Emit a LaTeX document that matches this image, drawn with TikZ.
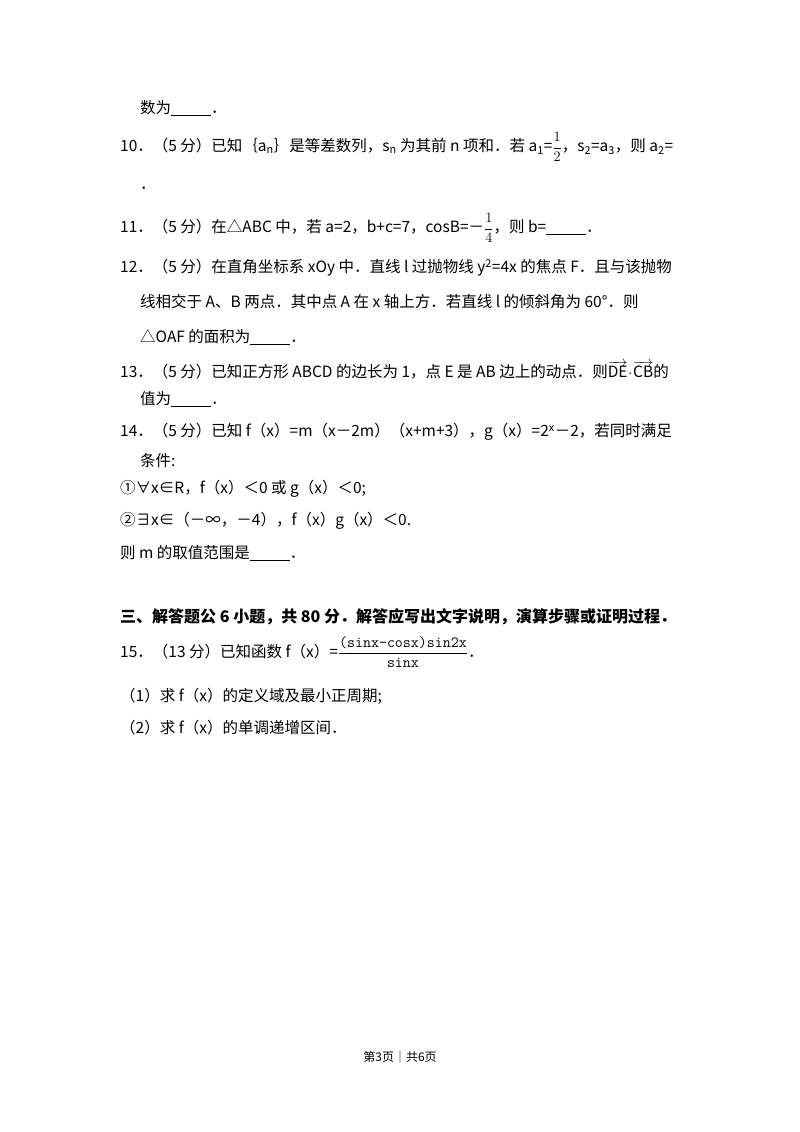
\documentclass[tikz,border=0pt]{standalone}
\usepackage{fontspec}
\setmainfont{Noto Sans CJK SC}
\usepackage{amsmath}
\begin{document}
\begin{tikzpicture}[x=1pt,y=-1pt,
  t/.style={anchor=west,inner sep=0pt,font=\fontsize{15.5}{18}\selectfont},
  b/.style={anchor=west,inner sep=0pt,font=\fontsize{16}{18}\selectfont\bfseries}]
\useasboundingbox[fill=white] (0,0) rectangle (800,1132);
\newcommand{\blank}{\underline{\hspace{40pt}}}
\node[t] (l0) at (140,108) {数为\blank．};
\node[t] (l10) at (120,147) {10．（5 分）已知｛a\textsubscript{n}｝是等差数列，s\textsubscript{n} 为其前 n 项和．若 a\textsubscript{1}=$\dfrac{1}{2}$，s\textsubscript{2}=a\textsubscript{3}，则 a\textsubscript{2}=};
\node[t] (l10b) at (140,188) {．};
\node[t] (l11) at (120,228) {11．（5 分）在△ABC 中，若 a=2，b+c=7，cosB=－$\dfrac{1}{4}$，则 b=\blank．};
\node[t] (l12) at (120,268) {12．（5 分）在直角坐标系 xOy 中．直线 l 过抛物线 y\textsuperscript{2}=4x 的焦点 F．且与该抛物};
\node[t] (l12b) at (140,302) {线相交于 A、B 两点．其中点 A 在 x 轴上方．若直线 l 的倾斜角为 60°．则};
\node[t] (l12c) at (140,337) {△OAF 的面积为\blank．};
\node[t] (l13) at (120,370) {13．（5 分）已知正方形 ABCD 的边长为 1，点 E 是 AB 边上的动点．则$\overrightarrow{\mathrm{DE}}\!\cdot\!\overrightarrow{\mathrm{CB}}$的};
\node[t] (l13b) at (140,399) {值为\blank．};
\node[t] (l14) at (120,432) {14．（5 分）已知 f（x）=m（x－2m）（x+m+3），g（x）=2\textsuperscript{x}－2，若同时满足};
\node[t] (l14b) at (140,461) {条件:};
\node[t] (c1) at (120,489) {①∀x∈R，f（x）＜0 或 g（x）＜0;};
\node[t] (c2) at (120,521) {②∃x∈（－∞，－4），f（x）g（x）＜0.};
\node[t] (c3) at (120,553) {则 m 的取值范围是\blank．};
\node[b] (h3) at (120,617) {三、解答题公 6 小题，共 80 分．解答应写出文字说明，演算步骤或证明过程．};
\node[t] (l15) at (120,652) {15．（13 分）已知函数 f（x）=$\dfrac{\texttt{(sinx-cosx)sin2x}}{\texttt{sinx}}$．};
\node[t] (q1) at (120,696) {（1）求 f（x）的定义域及最小正周期;};
\node[t] (q2) at (120,728) {（2）求 f（x）的单调递增区间．};
\node[inner sep=0pt,font=\fontsize{12}{14}\selectfont] (pg) at (400,1057) {第3页｜共6页};
\end{tikzpicture}
\end{document}
